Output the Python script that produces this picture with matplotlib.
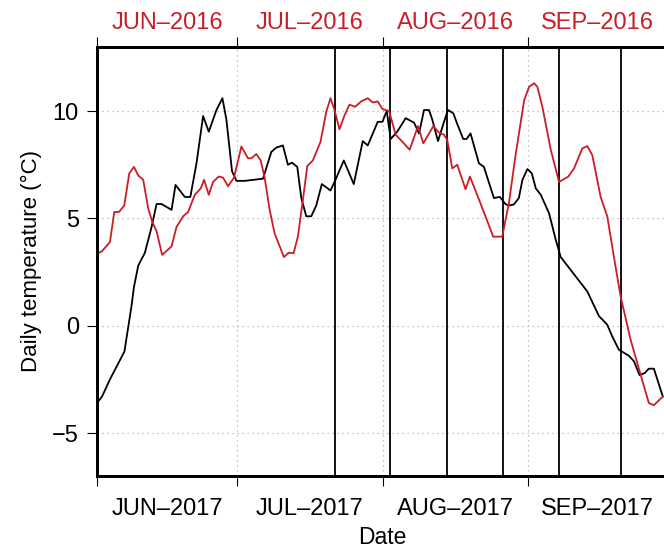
import matplotlib.pyplot as plt

plt.rcParams['font.family'] = ['Liberation Sans', 'DejaVu Sans']

# days counted from 1 June, daily temperature in degC
day_2017 = [0.0, 1.07, 2.77, 5.86, 7.36, 7.89, 8.81, 10.23, 11.66, 12.73, 13.80,
            15.93, 16.78, 18.76, 19.94, 21.26, 22.67, 23.88, 25.52, 26.80, 27.65,
            28.85, 29.79, 31.56, 35.46, 37.25, 38.32, 39.72, 40.79, 41.64, 42.79,
            43.65, 44.71, 45.78, 46.84, 48.04, 49.89, 50.96, 52.73, 54.86, 56.78,
            57.85, 59.98, 60.98, 61.90, 62.75, 64.18, 65.95, 67.74, 68.81, 69.87,
            70.94, 71.64, 72.86, 74.14, 74.99, 76.12, 76.97, 78.25, 78.96, 79.81,
            81.60, 82.67, 84.80, 86.08, 87.27, 88.00, 89.06, 90.13, 90.90, 91.96,
            92.90, 93.75, 94.82, 96.59, 98.02, 99.08, 100.85, 102.62, 104.75,
            107.25, 109.02, 110.09, 111.51, 113.65, 114.71, 115.93, 117.06,
            117.91, 118.98, 120.90]
temp_2017 = [-3.6, -3.3, -2.5, -1.2, 0.9, 1.8, 2.8, 3.4, 4.6, 5.67, 5.67,
             5.4, 6.56, 6.0, 6.0, 7.57, 9.77, 9.04, 10.05, 10.6, 9.6,
             7.2, 6.75, 6.75, 6.85, 8.1, 8.3, 8.4, 7.5, 7.6, 7.4,
             5.95, 5.1, 5.1, 5.6, 6.6, 6.3, 6.8, 7.7, 6.6, 8.6,
             8.4, 9.5, 9.5, 10.0, 8.7, 9.05, 9.67, 9.46, 8.96, 10.05,
             10.05, 9.6, 8.6, 9.5, 10.05, 9.9, 9.4, 8.7, 8.7, 8.96,
             7.57, 7.4, 5.95, 6.0, 5.67, 5.6, 5.65, 5.95, 6.8, 7.3,
             7.1, 6.4, 6.1, 5.24, 4.0, 3.2, 2.7, 2.2, 1.6,
             0.45, 0.05, -0.5, -1.12, -1.4, -1.65, -2.3, -2.2,
             -2.0, -2.0, -3.3]

day_2016 = [0.0, 1.0, 2.77, 3.69, 4.69, 5.82, 6.89, 7.89, 8.81, 9.87, 10.94,
            11.79, 12.73, 13.92, 15.93, 16.99, 18.40, 19.47, 20.90, 22.17, 22.88,
            23.88, 24.80, 26.01, 26.93, 28.00, 29.28, 30.85, 32.26, 32.99, 34.05,
            34.97, 35.82, 36.89, 37.95, 39.94, 40.94, 42.00, 42.92, 43.99, 44.93,
            46.12, 47.76, 48.98, 49.89, 50.75, 51.81, 52.88, 53.94, 55.16, 56.44,
            57.85, 58.91, 59.98, 60.98, 62.41, 63.82, 65.25, 66.80, 68.59, 69.72,
            71.86, 73.07, 74.14, 74.84, 75.91, 76.97, 78.74, 79.68, 81.94, 84.65,
            85.50, 86.57, 88.00, 89.40, 91.26, 92.32, 93.39, 94.09, 95.16, 96.95,
            98.72, 100.70, 101.92, 103.69, 104.75, 105.82, 107.61, 109.02, 110.45,
            111.87, 114.01, 115.44, 116.84, 117.91, 118.98, 120.90]
temp_2016 = [3.36, 3.46, 3.9, 5.3, 5.3, 5.6, 7.1, 7.4, 7.0, 6.8, 5.47,
             4.85, 4.4, 3.3, 3.7, 4.6, 5.1, 5.3, 6.1, 6.4, 6.8,
             6.1, 6.7, 6.95, 6.9, 6.5, 6.9, 8.35, 7.8, 7.8, 8.0,
             7.7, 6.9, 5.4, 4.3, 3.2, 3.4, 3.38, 4.15, 5.86, 7.44,
             7.7, 8.57, 9.97, 10.6, 10.05, 9.15, 9.8, 10.3, 10.2, 10.45,
             10.6, 10.4, 10.45, 10.1, 10.0, 8.9, 8.57, 8.2, 9.3, 8.5,
             9.3, 9.0, 8.9, 8.65, 7.33, 7.5, 6.36, 6.95, 5.7, 4.15,
             4.15, 4.15, 5.7, 7.9, 10.5, 11.13, 11.3, 11.13, 10.2, 8.2,
             6.7, 6.95, 7.33, 8.26, 8.37, 7.95, 6.0, 5.1, 3.2,
             1.37, -0.65, -1.74, -2.8, -3.6, -3.7, -3.3]

# acquisition days (from 1 June)
scene_days = [50.75, 62.7, 74.8, 86.7, 98.7, 111.9]

month_start = [0, 30, 61, 92, 122]
month_mid = [15, 45.5, 76.5, 107]
month_names = ["JUN", "JUL", "AUG", "SEP"]
labels_2017 = [m + "\u20132017" for m in month_names]
labels_2016 = [m + "\u20132016" for m in month_names]

red = "#c81e28"
fs = 17

fig = plt.figure(figsize=(6.64, 5.5), dpi=100)
ax = fig.add_axes([97 / 664, 74 / 550, 571 / 664, 429.3 / 550])

for d in scene_days:
    ax.axvline(d, color="black", lw=1.3, zorder=2)

ax.plot(day_2017, temp_2017, color="black", lw=1.3, zorder=3)
ax.plot(day_2016, temp_2016, color=red, lw=1.3, zorder=4)

ax.set_xlim(0, 571 / 4.69)
ax.set_ylim(-7, 13)
ax.set_yticks([-5, 0, 5, 10])

ax.set_xticks(month_start)
ax.set_xticklabels([])
ax.set_xticks(month_mid, minor=True)
ax.set_xticklabels(labels_2017, minor=True, fontsize=fs)
ax.tick_params(axis="x", which="major", direction="out", length=7, width=0.8)
ax.tick_params(axis="x", which="minor", length=0, pad=15.5)
ax.tick_params(axis="y", direction="out", length=7, width=0.8, pad=6,
               labelsize=fs)

ax.grid(True, which="major", linestyle=(0, (1, 3)), color="#b0b0b0", lw=0.9)
ax.set_axisbelow(True)

for s in ax.spines.values():
    s.set_linewidth(2)

ax.set_xlabel("Date", fontsize=16.5, labelpad=5)
ax.set_ylabel("Daily temperature (\u00b0C)", fontsize=16, labelpad=7)

# 2016 axis on top
top = ax.twiny()
top.set_xlim(ax.get_xlim())
top.set_xticks(month_start)
top.set_xticklabels([])
top.set_xticks(month_mid, minor=True)
top.set_xticklabels(labels_2016, minor=True, fontsize=fs, color=red)
top.tick_params(axis="x", which="major", direction="out", length=7, width=0.8)
top.tick_params(axis="x", which="minor", length=0, pad=9)
for s in top.spines.values():
    s.set_linewidth(2)

fig.savefig("out.png", dpi=100)
